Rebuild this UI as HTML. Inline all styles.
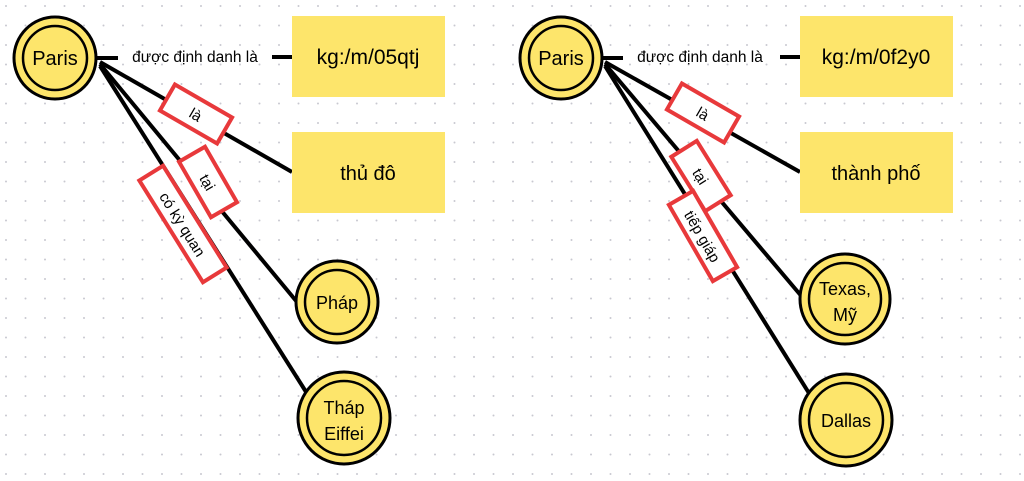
<!DOCTYPE html>
<html><head><meta charset="utf-8"><style>
html,body{margin:0;padding:0;background:#fff;}
svg{display:block;font-family:"Liberation Sans",sans-serif;}
</style></head><body>
<svg width="1024" height="481" viewBox="0 0 1024 481" xmlns="http://www.w3.org/2000/svg">
<defs>
<pattern id="dots" x="5" y="5" width="19.5" height="19.5" patternUnits="userSpaceOnUse">
<circle cx="1" cy="1" r="1" fill="#c8c8d0"/>
</pattern>
</defs>
<rect width="1024" height="481" fill="#fff"/>
<rect width="1024" height="481" fill="url(#dots)"/>

<g id="L">
<g stroke="#000" stroke-width="4" fill="none">
<line x1="97" y1="58" x2="118" y2="58"/>
<line x1="272" y1="57" x2="292" y2="57"/>
<line x1="100" y1="62" x2="292" y2="172"/>
<line x1="100" y1="64" x2="297" y2="302"/>
<line x1="100" y1="66" x2="308" y2="395"/>
</g>
<circle cx="55" cy="58" r="41" fill="#fde56b" stroke="#000" stroke-width="3"/>
<circle cx="55" cy="58" r="32" fill="none" stroke="#000" stroke-width="2.5"/>
<text x="55" y="65" font-size="20" text-anchor="middle">Paris</text>
<text x="195" y="62" font-size="15.5" text-anchor="middle">được định danh là</text>
<rect x="292" y="16" width="153" height="81" fill="#fde56b"/>
<text x="368" y="64" font-size="21" text-anchor="middle">kg:/m/05qtj</text>
<rect x="292" y="132" width="153" height="81" fill="#fde56b"/>
<text x="368" y="180" font-size="20" text-anchor="middle">thủ đô</text>
<circle cx="337" cy="302" r="41" fill="#fde56b" stroke="#000" stroke-width="3"/>
<circle cx="337" cy="302" r="32" fill="none" stroke="#000" stroke-width="2.5"/>
<text x="337" y="309" font-size="18" text-anchor="middle">Pháp</text>
<circle cx="344" cy="418" r="46" fill="#fde56b" stroke="#000" stroke-width="3"/>
<circle cx="344" cy="418" r="37" fill="none" stroke="#000" stroke-width="2.5"/>
<text x="344" y="414" font-size="18" text-anchor="middle">Tháp</text>
<text x="344" y="440" font-size="18" text-anchor="middle">Eiffei</text>
<g transform="translate(196,114) rotate(30)">
<rect x="-33" y="-15" width="66" height="30" fill="#fff" stroke="#e8393b" stroke-width="4"/>
<text x="0" y="6" font-size="15" text-anchor="middle">là</text>
</g>
<g transform="translate(208,182) rotate(60)">
<rect x="-32" y="-15" width="64" height="30" fill="#fff" stroke="#e8393b" stroke-width="4"/>
<text x="0" y="6" font-size="15" text-anchor="middle">tại</text>
</g>
<g transform="translate(183,224) rotate(58)">
<rect x="-60" y="-14" width="120" height="28" fill="#fff" stroke="#e8393b" stroke-width="4"/>
<text x="0" y="6" font-size="15" text-anchor="middle">có kỳ quan</text>
</g>
</g>

<g id="R">
<g stroke="#000" stroke-width="4" fill="none">
<line x1="603" y1="58" x2="623" y2="58"/>
<line x1="780" y1="57" x2="800" y2="57"/>
<line x1="605" y1="62" x2="800" y2="172"/>
<line x1="605" y1="64" x2="803" y2="298"/>
<line x1="605" y1="66" x2="812" y2="398"/>
</g>
<circle cx="561" cy="58" r="41" fill="#fde56b" stroke="#000" stroke-width="3"/>
<circle cx="561" cy="58" r="32" fill="none" stroke="#000" stroke-width="2.5"/>
<text x="561" y="65" font-size="20" text-anchor="middle">Paris</text>
<text x="700" y="62" font-size="15.5" text-anchor="middle">được định danh là</text>
<rect x="800" y="16" width="153" height="81" fill="#fde56b"/>
<text x="876" y="64" font-size="21" text-anchor="middle">kg:/m/0f2y0</text>
<rect x="800" y="132" width="153" height="81" fill="#fde56b"/>
<text x="876" y="180" font-size="20" text-anchor="middle">thành phố</text>
<circle cx="845" cy="299" r="45" fill="#fde56b" stroke="#000" stroke-width="3"/>
<circle cx="845" cy="299" r="36" fill="none" stroke="#000" stroke-width="2.5"/>
<text x="845" y="295" font-size="18" text-anchor="middle">Texas,</text>
<text x="845" y="321" font-size="18" text-anchor="middle">Mỹ</text>
<circle cx="846" cy="420" r="46" fill="#fde56b" stroke="#000" stroke-width="3"/>
<circle cx="846" cy="420" r="37" fill="none" stroke="#000" stroke-width="2.5"/>
<text x="846" y="427" font-size="18" text-anchor="middle">Dallas</text>
<g transform="translate(703,113) rotate(30)">
<rect x="-33" y="-15" width="66" height="30" fill="#fff" stroke="#e8393b" stroke-width="4"/>
<text x="0" y="6" font-size="15" text-anchor="middle">là</text>
</g>
<g transform="translate(701,176) rotate(58)">
<rect x="-32" y="-15" width="64" height="30" fill="#fff" stroke="#e8393b" stroke-width="4"/>
<text x="0" y="6" font-size="15" text-anchor="middle">tại</text>
</g>
<g transform="translate(703,236) rotate(60)">
<rect x="-44" y="-14" width="88" height="28" fill="#fff" stroke="#e8393b" stroke-width="4"/>
<text x="0" y="6" font-size="15" text-anchor="middle">tiếp giáp</text>
</g>
</g>
</svg>
</body></html>
